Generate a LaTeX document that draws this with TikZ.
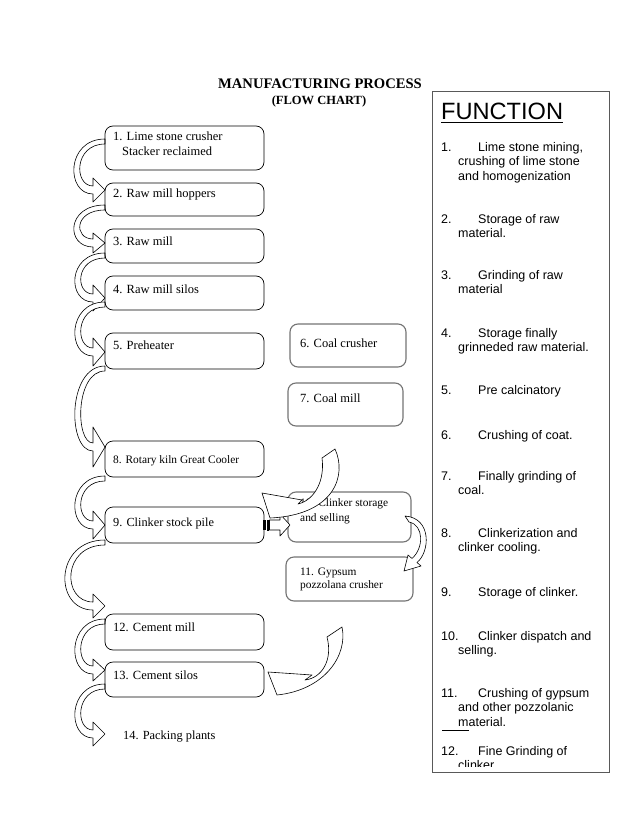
\documentclass[tikz,border=0pt]{standalone}
\usepackage{fontspec}
\setmainfont{Liberation Serif}
\newfontfamily\arialfont{Liberation Sans}
\usetikzlibrary{calc}

\tikzset{
    stage/.style={draw, rounded corners=8pt, line width=0.7pt, inner sep=0pt, outer sep=0pt},
    coalstage/.style={stage, draw=black!55, line width=1.1pt},
    boxtext/.style={anchor=base west, inner sep=0pt, font=\fontsize{12.5}{15}\selectfont},
    functext/.style={anchor=north west, inner sep=0pt, align=left, font=\arialfont\fontsize{12.5}{14.5}\selectfont},
    flowarrow/.style={draw=black, fill=white, line width=0.6pt, line join=round},
}

\newcommand{\stagebox}[6][stage]{%
    \node[#1, minimum width={#5-#3}, minimum height={#6-#4}] (#2) at ({(#3+#5)/2},{(#4+#6)/2}) {};}
\newcommand{\bendarrow}[4]{%
    \pgfmathsetmacro\cx{(#3-24.75)/0.75}
    \draw[flowarrow] (105,#1) .. controls (\cx,#1) and (\cx,#2+4) .. (93,#2+4)
        -- (93,#2+#4) -- (105,#2) -- (93,#2-#4) -- (93,#2-4)
        .. controls (\cx+8,#2-4) and (\cx+8,#1+5) .. (105,#1+5) -- cycle;}
\newcommand{\fnum}[1]{\makebox[37pt][l]{#1}}
\newcommand{\fcont}{\hspace*{17pt}}

\begin{document}
\begin{tikzpicture}[x=1pt, y=-1pt]
    \useasboundingbox (0,0) rectangle (638,826);

    \node[anchor=base, inner sep=0pt, font=\bfseries\fontsize{14.6}{17}\selectfont] (title) at (320,89) {MANUFACTURING PROCESS};
    \node[anchor=base, inner sep=0pt, font=\bfseries\fontsize{12.5}{15}\selectfont] (subtitle) at (319,105) {(FLOW CHART)};

    % flow arrows on the left
    \bendarrow{139}{190}{74}{12}
    \bendarrow{205}{243}{74}{10}
    \bendarrow{253}{298}{75}{13}
    \bendarrow{302}{352}{75}{14}
    \bendarrow{366}{447}{75}{20}
    \bendarrow{476}{525}{75}{14}
    \bendarrow{540}{606}{65}{12}
    \bendarrow{619}{670}{75}{11}
    \bendarrow{684}{734}{75}{12}

    \stagebox{b1}{105}{126}{264}{170}
    \stagebox{b2}{105}{183}{264}{216}
    \stagebox{b3}{105}{229}{264}{263}
    \stagebox{b4}{105}{276}{264}{310}
    \stagebox{b5}{105}{333}{264}{369}
    \stagebox[coalstage]{b6}{290}{324}{406}{367}
    \stagebox[coalstage]{b7}{288}{383}{403}{426}
    \stagebox{b8}{105}{441}{264}{477}
    \stagebox{b9}{105}{507}{264}{543}
    \stagebox[coalstage]{b10}{288}{492}{411}{542}
    \stagebox[coalstage]{b11}{286}{557}{413}{601}
    \stagebox{b12}{105}{614}{264}{650}
    \stagebox{b13}{105}{662}{264}{697}

    \node[boxtext] (t1) at ([shift={(8,15)}]b1.north west) {1. Lime stone crusher};
    \node[boxtext] (t1b) at ([shift={(17,30)}]b1.north west) {Stacker reclaimed};
    \node[boxtext] (t2) at ([shift={(8,15)}]b2.north west) {2. Raw mill hoppers};
    \node[boxtext] (t3) at ([shift={(8,16)}]b3.north west) {3. Raw mill};
    \node[boxtext] (t4) at ([shift={(8,17)}]b4.north west) {4. Raw mill silos};
    \node[boxtext] (t5) at ([shift={(8,16)}]b5.north west) {5. Preheater};
    \node[boxtext] (t6) at ([shift={(10,23)}]b6.north west) {6. Coal crusher};
    \node[boxtext] (t7) at ([shift={(12,19)}]b7.north west) {7. Coal mill};
    \node[boxtext, font=\fontsize{11.4}{14}\selectfont] (t8) at ([shift={(8,22)}]b8.north west) {8. Rotary kiln Great Cooler};
    \node[boxtext, font=\fontsize{12.3}{15}\selectfont] (t9) at ([shift={(8,19)}]b9.north west) {9. Clinker stock pile};
    \node[boxtext, font=\fontsize{11.4}{14}\selectfont] (t10) at ([shift={(12,14)}]b10.north west) {10. Clinker storage};
    \node[boxtext, font=\fontsize{11.4}{14}\selectfont] (t10b) at ([shift={(12,29)}]b10.north west) {and selling};
    \node[boxtext, font=\fontsize{11.4}{14}\selectfont] (t11) at ([shift={(14,18)}]b11.north west) {11. Gypsum};
    \node[boxtext, font=\fontsize{11.4}{14}\selectfont] (t11b) at ([shift={(14,31)}]b11.north west) {pozzolana crusher};
    \node[boxtext] (t12) at ([shift={(8,17)}]b12.north west) {12. Cement mill};
    \node[boxtext] (t13) at ([shift={(8,17)}]b13.north west) {13. Cement silos};
    \node[boxtext, font=\fontsize{12.4}{15}\selectfont] (t14) at (123,739) {14. Packing plants};

    % striped arrow 9 -> 10
    \begin{scope}[shift={(b9.east)}]
        \fill (-1,-5) rectangle (2,5);
        \draw[line width=0.6pt] (3,-5) rectangle (4.5,5);
        \draw[flowarrow] (5.5,-5) -- (16,-5) -- (16,-11) -- (26,0) -- (16,11) -- (16,5) -- (5.5,5) -- cycle;
    \end{scope}

    % curved arrows on the right
    \draw[flowarrow] (262,493) -- (302,500) -- (298,504) .. controls (315,500) and (325,480) .. (322,458)
        -- (335,449) .. controls (347,475) and (335,515) .. (270,518) -- cycle;
    \draw[flowarrow] (405,516) .. controls (432,518) and (430,552) .. (417,562.5) -- (421,566) -- (404,571)
        -- (408,555) -- (412,558.5) .. controls (424,548) and (424,525) .. (409,522) -- cycle;
    \draw[flowarrow] (268,672) -- (312,675) -- (305,680) .. controls (322,678) and (333,660) .. (327,637)
        -- (342,627) .. controls (348,655) and (325,690) .. (277,695) -- cycle;

    % function panel
    \node[draw=black!65, line width=1pt, inner sep=0pt, minimum width=177, minimum height=680] (funcbox) at (520.5,432) {};
    \node[anchor=base west, inner sep=0pt, font=\arialfont\fontsize{23.6}{26}\selectfont] (fhead) at (441,120) {FUNCTION};
    \draw[line width=1.2pt] ($(fhead.south west)+(0,2)$) -- ($(fhead.south east)+(0,2)$);

    \begin{scope}
        \clip (432,92) rectangle (609,766);
        \node[functext] (f1) at (441,142) {\fnum{1.}Lime stone mining,\\\fcont crushing of lime stone\\\fcont and homogenization};
        \node[functext] (f2) at (441,214) {\fnum{2.}Storage of raw\\\fcont material.};
        \node[functext] (f3) at (441,270) {\fnum{3.}Grinding of raw\\\fcont material};
        \node[functext] (f4) at (441,328) {\fnum{4.}Storage finally\\\fcont grinneded raw material.};
        \node[functext] (f5) at (441,385) {\fnum{5.}Pre calcinatory};
        \node[functext] (f6) at (441,430) {\fnum{6.}Crushing of coat.};
        \node[functext] (f7) at (441,471) {\fnum{7.}Finally grinding of\\\fcont coal.};
        \node[functext] (f8) at (441,528) {\fnum{8.}Clinkerization and\\\fcont clinker cooling.};
        \node[functext] (f9) at (441,587) {\fnum{9.}Storage of clinker.};
        \node[functext] (f10) at (441,631) {\fnum{10.}Clinker dispatch and\\\fcont selling.};
        \node[functext] (f11) at (441,688) {\fnum{11.}Crushing of gypsum\\\fcont and other pozzolanic\\\fcont material.};
        \node[functext] (f12) at (441,746) {\fnum{12.}Fine Grinding of\\\fcont clinker};
    \end{scope}
    \draw[line width=0.8pt] (442,730) -- (469,730);
\end{tikzpicture}
\end{document}
